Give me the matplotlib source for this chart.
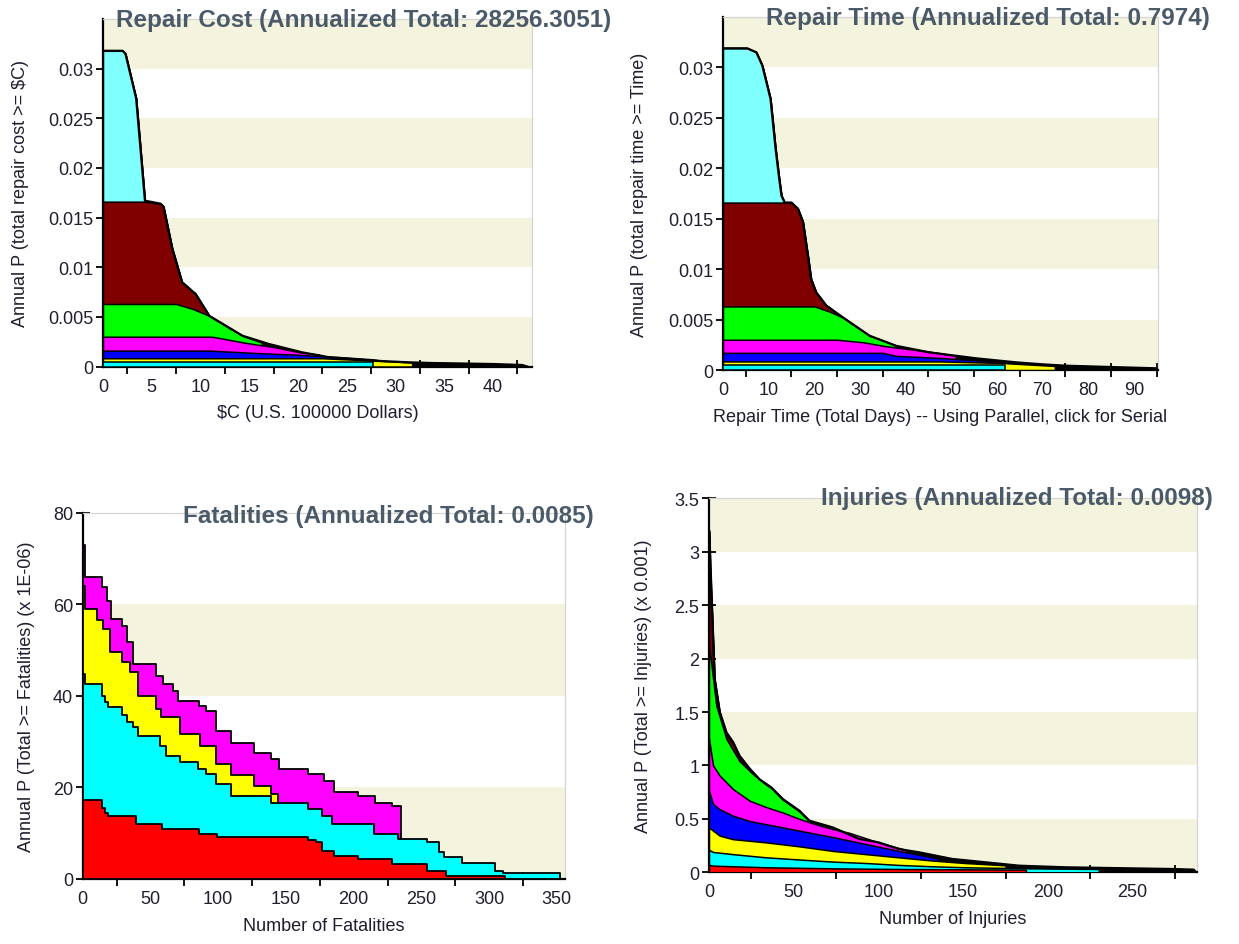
import numpy as np
import matplotlib
matplotlib.use("Agg")
import matplotlib.pyplot as plt
from matplotlib.ticker import FixedLocator

plt.rcParams['font.family'] = ['Liberation Sans', 'DejaVu Sans']

# ---------------- colours ----------------
LIGHTCYAN = '#80FFFF'
DARKRED = '#800000'
GREEN = '#00FF00'
MAGENTA = '#FF00FF'
BLUE = '#0000FF'
YELLOW = '#FFFF00'
CYAN = '#00FFFF'
RED = '#FF0000'
BEIGE = '#F3F3DE'
TITLE_COLOR = '#4B5A69'
TEXT_COLOR = '#1E1E2E'

# ---------------- Panel 1 : Repair cost (cumulative layer tops) ----------------
cost_total_x = [0, 2.0, 2.3, 3.4, 4.3, 5.9, 6.2, 7.1, 7.6, 8.1, 9.5, 10.9, 12.6, 14.3, 17.0,
                20.4, 23.2, 27.7, 31.4, 33.8, 40.0, 43.0, 43.5]
cost_total_y = [0.0318, 0.0318, 0.0315, 0.0270, 0.0167, 0.0164, 0.0161, 0.01187, 0.0102, 0.0085,
                0.0073, 0.0051, 0.0041, 0.0031, 0.00227, 0.00143, 0.00093, 0.00059, 0.00042,
                0.00035, 0.00025, 0.00015, 0.0]
cost_lightcyan_x = [0, 2.0, 2.3, 3.4, 4.3]
cost_lightcyan_y = [0.0318, 0.0318, 0.0315, 0.0270, 0.0167]
cost_darkred_x = [0, 4.2, 5.9, 6.2, 7.1, 7.6, 8.1, 9.5, 10.9, 11.2]
cost_darkred_y = [0.0166, 0.0166, 0.0164, 0.0161, 0.01187, 0.0102, 0.0085, 0.0073, 0.0051, 0.0049]
cost_green_x = [0, 7.5, 9.2, 10.9, 12.6, 14.3, 16.3]
cost_green_y = [0.0063, 0.0063, 0.0058, 0.0051, 0.0041, 0.0031, 0.0024]
cost_magenta_x = [0, 11.2, 14.7, 17.7, 20.2, 22.2]
cost_magenta_y = [0.0030, 0.0030, 0.00237, 0.00193, 0.00143, 0.0012]
cost_blue_x = [0, 10.9, 15.7, 19.8, 24.6, 27.7, 28.5]
cost_blue_y = [0.0016, 0.0016, 0.00136, 0.00119, 0.00093, 0.00072, 0.0006]
cost_yellow_x = [0, 22.5, 27.7, 31.7]
cost_yellow_y = [0.00083, 0.00083, 0.0006, 0.0004]
cost_cyan_x = [0, 27.7]
cost_cyan_y = [0.00042, 0.00042]

# ---------------- Panel 2 : Repair time ----------------
time_total_x = [0, 5.3, 7.3, 8.6, 10.4, 11.5, 12.3, 12.8, 13.5, 15.0, 16.4, 17.5, 18.6, 19.3,
                20.4, 22.6, 26.3, 32.1, 37.9, 45.2, 55.4, 64.2, 70, 75, 84.6, 94.8, 95.2]
time_total_y = [0.0319, 0.0319, 0.0315, 0.0302, 0.0269, 0.0220, 0.0190, 0.0173, 0.0166, 0.0166,
                0.0160, 0.0147, 0.0113, 0.0090, 0.0077, 0.0064, 0.0052, 0.0034, 0.0024, 0.00175,
                0.00116, 0.00076, 0.00056, 0.00043, 0.0003, 0.00017, 0.0]
time_lightcyan_x = [0, 5.3, 7.3, 8.6, 10.4, 11.5, 12.3, 12.8, 13.5]
time_lightcyan_y = [0.0319, 0.0319, 0.0315, 0.0302, 0.0269, 0.0220, 0.0190, 0.0173, 0.0166]
time_darkred_x = [0, 15.0, 16.4, 17.5, 18.6, 19.3, 20.4, 22.6, 26.3, 27.0]
time_darkred_y = [0.0166, 0.0166, 0.0160, 0.0147, 0.0113, 0.0090, 0.0077, 0.0064, 0.0052, 0.0050]
time_green_x = [0, 20.1, 23.3, 26.3, 32.1, 37.6]
time_green_y = [0.0063, 0.0063, 0.0058, 0.0052, 0.0034, 0.0025]
time_magenta_x = [0, 25.0, 30.7, 35.8, 43.8, 47.0, 51.0]
time_magenta_y = [0.0030, 0.0030, 0.00275, 0.00235, 0.0019, 0.00170, 0.0014]
time_blue_x = [0, 35.0, 37.9, 47.4, 56.9, 62.7]
time_blue_y = [0.0017, 0.0017, 0.0014, 0.0012, 0.00092, 0.0007]
time_yellow_x = [0, 47.4, 61.0, 72.7]
time_yellow_y = [0.00085, 0.00085, 0.0007, 0.0004]
time_cyan_x = [0, 61.7]
time_cyan_y = [0.00045, 0.00045]

# ---------------- Panel 3 : Fatalities (step, value holds from x_i to x_i+1) ----------------
fat_magenta_x = [0, 1.7, 14, 17.6, 21, 28.7, 32.4, 37.3, 54.4, 59.3, 66.7, 70.3, 86, 91.2, 98.5,
                 109.6, 126.7, 139, 145, 166, 178, 185.5, 203, 216, 228, 234.6]
fat_magenta_y = [73, 65.9, 63.7, 60.8, 56.8, 55.3, 51.7, 46.9, 44.4, 42.6, 41.1, 38.8, 37.8, 36.7,
                 32.4, 29.8, 27.5, 26.2, 24.0, 22.9, 21.5, 18.9, 18.2, 16.7, 15.9, 0]
fat_yellow_x = [0, 1.5, 10.3, 15.2, 20.1, 28.7, 34.8, 40.9, 54.4, 58.1, 71.6, 86.3, 98.5, 109.6,
                126.7, 139, 143.9]
fat_yellow_y = [64, 59.0, 56.5, 54.6, 49.5, 47.3, 45.1, 40.0, 37.1, 35.3, 31.7, 29.1, 25.1, 22.6,
                20.4, 18.6, 0]
fat_cyan_x = [0, 1.7, 14, 16.5, 19, 28.7, 33, 37, 41, 56.9, 61.8, 71.6, 85, 91.2, 98.5, 109.6,
              139, 166, 177, 184.3, 215, 233, 254, 262.7, 266.4, 280, 304, 310.5, 352]
fat_cyan_y = [44.8, 42.6, 40.0, 38.6, 37.5, 35.7, 34.2, 33.1, 31.3, 29.1, 26.9, 25.5, 24.0, 22.9,
              20.7, 18.2, 16.7, 15.3, 13.8, 12.0, 9.8, 8.7, 8.0, 6.0, 4.7, 3.6, 1.8, 1.3, 0]
fat_red_x = [0, 14, 16.5, 19, 39.7, 58.8, 86, 99, 166, 172, 177, 185.5, 203, 228, 254, 268, 312]
fat_red_y = [17.3, 15.5, 14.5, 13.8, 12.0, 10.9, 9.8, 9.1, 8.5, 8.0, 6.2, 5.1, 4.4, 3.3, 1.7, 0.7, 0]

# ---------------- Panel 4 : Injuries (x 0.001) ----------------
inj_total_x = [0, 0.5, 1.4, 2.4, 3.3, 6.3, 10.2, 14.1, 18, 24, 29.8, 36.7, 43.5, 53.3, 59.2, 73,
               88.6, 100, 112, 124, 143.5, 163, 183, 210, 249, 273, 286, 287.5]
inj_total_y = [3.2, 3.0, 2.6, 2.18, 1.81, 1.50, 1.31, 1.22, 1.09, 0.97, 0.87, 0.795, 0.686, 0.577,
               0.483, 0.42, 0.312, 0.28, 0.218, 0.187, 0.125, 0.094, 0.062, 0.047, 0.037, 0.031,
               0.025, 0]
inj_darkred_x = [0, 1.4, 2.4, 3.3, 6.3, 10.2, 14.1, 18, 24, 29.8, 33]
inj_darkred_y = [2.9, 2.55, 2.15, 1.79, 1.48, 1.29, 1.20, 1.07, 0.95, 0.86, 0.83]
inj_green_x = [0, 1.0, 2.4, 4.3, 10.2, 18, 25.9, 33.7, 36.7, 43.5, 53.3, 59.2, 73, 80.8]
inj_green_y = [2.1, 2.0, 1.81, 1.56, 1.25, 1.04, 0.92, 0.82, 0.79, 0.68, 0.57, 0.48, 0.42, 0.37]
inj_magenta_x = [0, 2.4, 6.3, 14.1, 24, 33.7, 43.5, 53.3, 63, 73, 82.7, 100, 116]
inj_magenta_y = [1.25, 1.0, 0.905, 0.78, 0.67, 0.61, 0.56, 0.50, 0.45, 0.405, 0.37, 0.28, 0.21]
inj_blue_x = [0, 2.4, 6.3, 14.1, 24, 33.7, 53.3, 73, 92.5, 112, 131.8, 135]
inj_blue_y = [0.76, 0.64, 0.59, 0.53, 0.48, 0.45, 0.39, 0.33, 0.265, 0.20, 0.14, 0.13]
inj_yellow_x = [0, 2.4, 6.3, 14.1, 33.7, 53.3, 73, 92.5, 112, 131.8, 151, 171, 175]
inj_yellow_y = [0.42, 0.39, 0.343, 0.31, 0.28, 0.243, 0.20, 0.17, 0.14, 0.11, 0.087, 0.069, 0.065]
inj_cyan_x = [0, 2.4, 14.1, 33.7, 53, 73, 92.5, 112, 132, 151, 190, 230]
inj_cyan_y = [0.21, 0.19, 0.17, 0.14, 0.12, 0.10, 0.087, 0.069, 0.056, 0.047, 0.037, 0.031]
inj_red_x = [0, 2.4, 33.7, 73, 112, 187]
inj_red_y = [0.07, 0.062, 0.047, 0.037, 0.031, 0.025]

# ---------------- axis settings ----------------
cost_ylabels = ['0', '0.005', '0.01', '0.015', '0.02', '0.025', '0.03']
time_ylabels = cost_ylabels
fat_ylabels = ['0', '20', '40', '60', '80']
inj_ylabels = ['0', '0.5', '1', '1.5', '2', '2.5', '3', '3.5']

TICK_FS = 13
LABEL_FS = 13
TITLE_FS = 17.5

W, H = 1239, 945
fig = plt.figure(figsize=(W / 100, H / 100), dpi=100)


def make_axes(left, right, top, bottom):
    return fig.add_axes([left / W, 1 - bottom / H, (right - left) / W, (bottom - top) / H])


def style_axes(ax, xmax, ymax, band, yticks, ylabels, xlabels_at, xminor_at, xlabel, ylabel, ylab_x_px):
    ax.set_xlim(0, xmax)
    ax.set_ylim(0, ymax)
    # alternating background bands
    k = 0
    y0 = 0.0
    while y0 < ymax - 1e-12:
        if k % 2 == 0:
            ax.axhspan(y0, min(y0 + band, ymax), color=BEIGE, zorder=0, lw=0)
        y0 += band
        k += 1
    ax.set_yticks(yticks)
    ax.set_yticklabels(ylabels)
    ax.set_xticks(xlabels_at)
    ax.set_xticklabels([str(int(v)) for v in xlabels_at])
    ax.xaxis.set_minor_locator(FixedLocator(xminor_at))
    ax.tick_params(axis='x', which='major', length=0, pad=8, labelsize=TICK_FS, colors=TEXT_COLOR)
    ax.tick_params(axis='x', which='minor', length=10, width=1.3, direction='inout', color='black')
    ax.tick_params(axis='y', which='major', length=10, width=1.3, direction='inout',
                   labelsize=TICK_FS, colors=TEXT_COLOR, pad=2)
    ax.tick_params(axis='y', which='major', color='black')
    for s in ('left', 'bottom'):
        ax.spines[s].set_color('black')
        ax.spines[s].set_linewidth(1.6)
    for s in ('top', 'right'):
        ax.spines[s].set_color('#D5D5D5')
        ax.spines[s].set_linewidth(0.9)
    ax.set_xlabel(xlabel, fontsize=LABEL_FS, color=TEXT_COLOR, labelpad=7)
    pos = ax.get_position()
    fig.text(ylab_x_px / W, pos.y0 + pos.height / 2, ylabel, rotation=90, ha='center',
             va='center', fontsize=LABEL_FS, color=TEXT_COLOR)


def draw_smooth(ax, total, layers):
    tx, ty = total
    ax.fill_between(tx, 0, ty, facecolor='black', edgecolor='black', lw=1.2, zorder=2)
    z = 3
    for (lx, ly, c) in layers:
        xs = list(lx) + [lx[-1]]
        ys = list(ly) + [0]
        ax.fill_between(xs, 0, ys, facecolor=c, edgecolor='black', lw=1.1, zorder=z)
        z += 1
    ax.plot(tx, ty, color='black', lw=1.6, zorder=z, solid_joinstyle='round')


def draw_steps(ax, layers):
    z = 3
    for (lx, ly, c) in layers:
        ax.fill_between(lx, 0, ly, step='post', facecolor=c, edgecolor='black', lw=1.3, zorder=z)
        z += 1


# ---- Panel 1
ax1 = make_axes(103, 532, 20, 367.5)
draw_smooth(ax1, (cost_total_x, cost_total_y), [
    (cost_lightcyan_x, cost_lightcyan_y, LIGHTCYAN),
    (cost_darkred_x, cost_darkred_y, DARKRED),
    (cost_green_x, cost_green_y, GREEN),
    (cost_magenta_x, cost_magenta_y, MAGENTA),
    (cost_blue_x, cost_blue_y, BLUE),
    (cost_yellow_x, cost_yellow_y, YELLOW),
    (cost_cyan_x, cost_cyan_y, CYAN),
])
style_axes(ax1, 44, 0.035, 0.005, np.arange(0, 0.0301, 0.005), cost_ylabels,
           np.arange(0, 41, 5), np.arange(2.5, 43, 5), '$C (U.S. 100000 Dollars)',
           'Annual P (total repair cost >= $C)', 21)

# ---- Panel 2
ax2 = make_axes(723, 1158, 18, 371)
draw_smooth(ax2, (time_total_x, time_total_y), [
    (time_lightcyan_x, time_lightcyan_y, LIGHTCYAN),
    (time_darkred_x, time_darkred_y, DARKRED),
    (time_green_x, time_green_y, GREEN),
    (time_magenta_x, time_magenta_y, MAGENTA),
    (time_blue_x, time_blue_y, BLUE),
    (time_yellow_x, time_yellow_y, YELLOW),
    (time_cyan_x, time_cyan_y, CYAN),
])
style_axes(ax2, 95.3, 0.035, 0.005, np.arange(0, 0.0301, 0.005), time_ylabels,
           np.arange(0, 91, 10), np.arange(5, 96, 10),
           'Repair Time (Total Days) -- Using Parallel, click for Serial',
           'Annual P (total repair time >= Time)', 640)

# ---- Panel 3
ax3 = make_axes(82.7, 565, 513.6, 880)
draw_steps(ax3, [
    (fat_magenta_x, fat_magenta_y, MAGENTA),
    (fat_yellow_x, fat_yellow_y, YELLOW),
    (fat_cyan_x, fat_cyan_y, CYAN),
    (fat_red_x, fat_red_y, RED),
])
style_axes(ax3, 356, 80, 20, np.arange(0, 81, 20), fat_ylabels,
           np.arange(0, 351, 50), np.arange(25, 330, 50), 'Number of Fatalities',
           'Annual P (Total >= Fatalities) (x 1E-06)', 27)

# ---- Panel 4
ax4 = make_axes(709, 1197, 499.3, 873.3)
draw_smooth(ax4, (inj_total_x, inj_total_y), [
    (inj_darkred_x, inj_darkred_y, DARKRED),
    (inj_green_x, inj_green_y, GREEN),
    (inj_magenta_x, inj_magenta_y, MAGENTA),
    (inj_blue_x, inj_blue_y, BLUE),
    (inj_yellow_x, inj_yellow_y, YELLOW),
    (inj_cyan_x, inj_cyan_y, CYAN),
    (inj_red_x, inj_red_y, RED),
])
style_axes(ax4, 288, 3.5, 0.5, np.arange(0, 3.51, 0.5), inj_ylabels,
           np.arange(0, 251, 50), np.arange(25, 280, 50), 'Number of Injuries',
           'Annual P (Total >= Injuries) (x 0.001)', 643)

# ---- Titles
titles = [
    ('Repair Cost (Annualized Total: 28256.3051)', 364, 21),
    ('Repair Time (Annualized Total: 0.7974)', 988, 18),
    ('Fatalities (Annualized Total: 0.0085)', 388, 517),
    ('Injuries (Annualized Total: 0.0098)', 1017, 499),
]
for txt, xp, yp in titles:
    fig.text(xp / W, 1 - yp / H, txt, ha='center', va='center', fontsize=TITLE_FS,
             fontweight='bold', color=TITLE_COLOR, zorder=10)

fig.savefig('out.png', dpi=100)
